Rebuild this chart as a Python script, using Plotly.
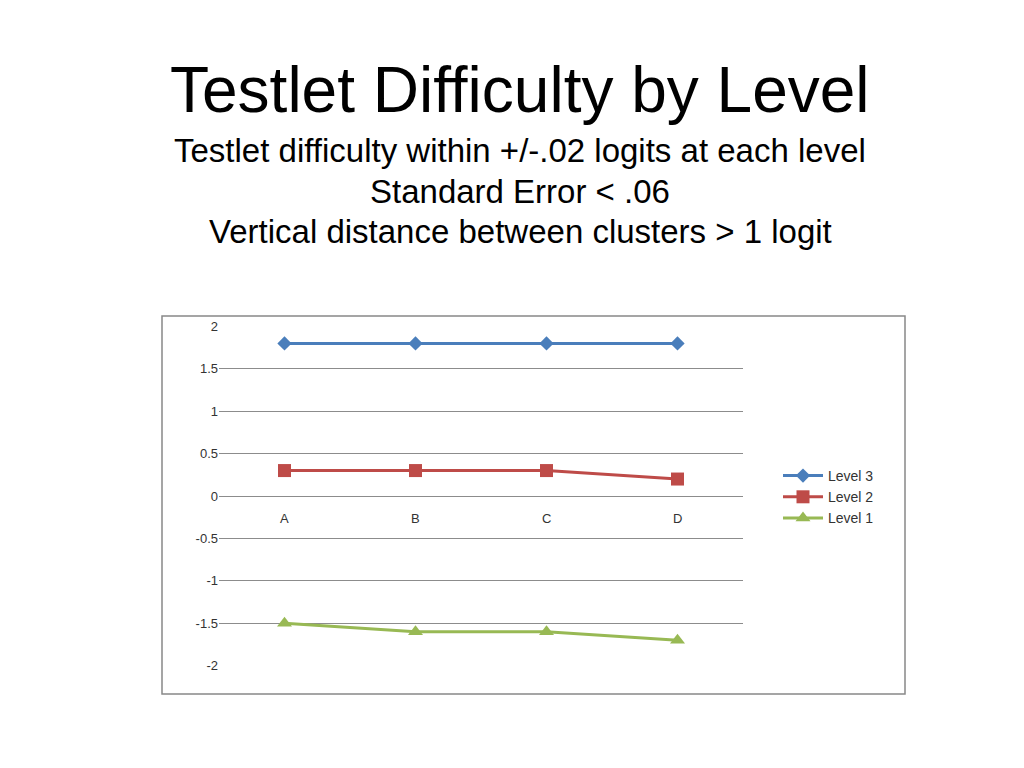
import plotly.graph_objects as go

categories = ["A", "B", "C", "D"]
level3 = [1.8, 1.8, 1.8, 1.8]
level2 = [0.3, 0.3, 0.3, 0.2]
level1 = [-1.5, -1.6, -1.6, -1.7]
y_ticks = [2, 1.5, 1, 0.5, 0, -0.5, -1, -1.5, -2]
y_labels = ["2", "1.5", "1", "0.5", "0", "-0.5", "-1", "-1.5", "-2"]

L, R, T, B = 211, 735, 318, 658

fig = go.Figure()
fig.add_trace(go.Scatter(x=categories, y=level3, name="Level 3", mode="lines+markers",
                         line=dict(color="#4a7ebb", width=3),
                         marker=dict(symbol="diamond", size=11, color="#4a7ebb")))
fig.add_trace(go.Scatter(x=categories, y=level2, name="Level 2", mode="lines+markers",
                         line=dict(color="#be4b48", width=3),
                         marker=dict(symbol="square", size=13, color="#be4b48")))
fig.add_trace(go.Scatter(x=categories, y=level1, name="Level 1", mode="lines+markers",
                         line=dict(color="#98b954", width=3),
                         marker=dict(symbol="triangle-up", size=13, color="#98b954")))

# category labels sit just under the zero line
for c in categories:
    fig.add_annotation(x=c, y=0, yshift=-22, text=c, showarrow=False,
                       font=dict(size=13, color="#333"))

def px(x, y):
    return (x - L) / (R - L), (B - y) / (B - T)

tx, ty = px(512, 82)
fig.add_annotation(xref="paper", yref="paper", x=tx, y=ty, yanchor="middle", xanchor="center",
                   showarrow=False, text="Testlet Difficulty by Level",
                   font=dict(size=64, color="black"))
subs = ["Testlet difficulty within +/-.02 logits at each level",
        "Standard Error < .06",
        "Vertical distance between clusters > 1 logit"]
for s, ypix in zip(subs, [142, 183, 223]):
    sx, sy = px(512, ypix)
    fig.add_annotation(xref="paper", yref="paper", x=sx, y=sy,
                       xanchor="center", yanchor="middle", showarrow=False, text=s,
                       font=dict(size=33, color="black"))

x0, y0 = px(154, 686)
x1, y1 = px(897, 308)
fig.add_shape(type="rect", xref="paper", yref="paper", x0=x0, x1=x1, y0=y0, y1=y1,
              line=dict(color="#888", width=1.5))

lx, ly = px(770, 452)
fig.update_layout(
    width=1024, height=768,
    margin=dict(l=L, r=1024 - R, t=T, b=768 - B),
    paper_bgcolor="white", plot_bgcolor="white",
    font=dict(family="Liberation Sans, Arial, sans-serif"),
    xaxis=dict(range=[-0.5, 3.5], showticklabels=False, showgrid=False,
               zeroline=False, showline=False, ticks=""),
    yaxis=dict(range=[-2.005, 2.005], tickvals=y_ticks, ticktext=y_labels, showgrid=True,
               gridcolor="#8c8c8c", gridwidth=1, zeroline=False, showline=False,
               tickfont=dict(size=13, color="#333"), ticklen=0),
    legend=dict(x=lx, y=ly, xanchor="left", yanchor="top",
                font=dict(size=14, color="#333"), tracegroupgap=8, itemwidth=40),
    showlegend=True,
)

fig.write_html("out.html")
